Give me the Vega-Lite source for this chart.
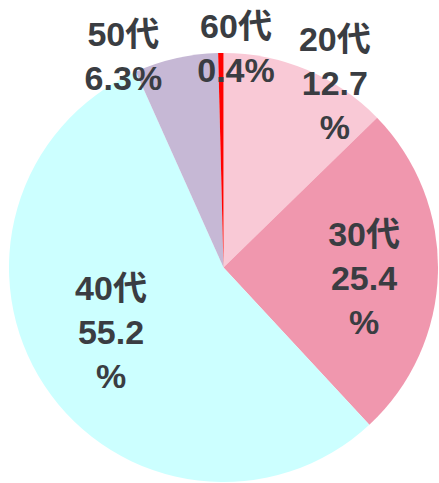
{
  "$schema": "https://vega.github.io/schema/vega-lite/v6.json",
  "width": 439,
  "height": 483,
  "autosize": "none",
  "padding": {"left": 4, "top": 26, "right": 0, "bottom": 0},
  "background": "white",
  "view": {"stroke": null},
  "data": {"values": [
    {"age": "20代", "pct": 12.7, "label": "20代\n12.7\n%"},
    {"age": "30代", "pct": 25.4, "label": "30代\n25.4\n%"},
    {"age": "40代", "pct": 55.2, "label": "40代\n55.2\n%"},
    {"age": "50代", "pct": 6.3, "label": "50代\n6.3%"},
    {"age": "60代", "pct": 0.4, "label": "60代\n0.4%"}
  ]},
  "encoding": {
    "theta": {"field": "pct", "type": "quantitative", "stack": true},
    "order": {"field": "age", "type": "ordinal", "sort": "ascending"}
  },
  "layer": [
    {
      "mark": {"type": "arc", "radius": 214.5},
      "encoding": {
        "color": {
          "field": "age", "type": "nominal", "legend": null,
          "scale": {
            "domain": ["20代", "30代", "40代", "50代", "60代"],
            "range": ["#F9C9D6", "#F097AE", "#CCFFFF", "#C6B8D5", "#FF0000"]
          }
        }
      }
    },
    {
      "mark": {"type": "text", "radius": 213.4, "thetaOffset": 0.150, "dy": -44, "font": "Liberation Sans, Noto Sans CJK JP", "fontWeight": "bold", "fontSize": 34, "lineHeight": 44, "lineBreak": "\n", "fill": "#3A3D42", "align": "center", "baseline": "middle"},
      "encoding": {"text": {"condition": {"test": "datum.age === '20代'", "field": "label"}, "value": ""}}
    },
    {
      "mark": {"type": "text", "radius": 141.1, "thetaOffset": 0.064, "dy": -44, "font": "Liberation Sans, Noto Sans CJK JP", "fontWeight": "bold", "fontSize": 34, "lineHeight": 44, "lineBreak": "\n", "fill": "#3A3D42", "align": "center", "baseline": "middle"},
      "encoding": {"text": {"condition": {"test": "datum.age === '30代'", "field": "label"}, "value": ""}}
    },
    {
      "mark": {"type": "text", "radius": 130.7, "thetaOffset": 0.050, "dy": -44, "font": "Liberation Sans, Noto Sans CJK JP", "fontWeight": "bold", "fontSize": 34, "lineHeight": 44, "lineBreak": "\n", "fill": "#3A3D42", "align": "center", "baseline": "middle"},
      "encoding": {"text": {"condition": {"test": "datum.age === '40代'", "field": "label"}, "value": ""}}
    },
    {
      "mark": {"type": "text", "radius": 232.6, "thetaOffset": -0.222, "dy": -22, "font": "Liberation Sans, Noto Sans CJK JP", "fontWeight": "bold", "fontSize": 34, "lineHeight": 44, "lineBreak": "\n", "fill": "#3A3D42", "align": "center", "baseline": "middle"},
      "encoding": {"text": {"condition": {"test": "datum.age === '50代'", "field": "label"}, "value": ""}}
    },
    {
      "mark": {"type": "text", "radius": 217.9, "thetaOffset": 0.070, "dy": -22, "font": "Liberation Sans, Noto Sans CJK JP", "fontWeight": "bold", "fontSize": 34, "lineHeight": 44, "lineBreak": "\n", "fill": "#3A3D42", "align": "center", "baseline": "middle"},
      "encoding": {"text": {"condition": {"test": "datum.age === '60代'", "field": "label"}, "value": ""}}
    }
  ]
}
